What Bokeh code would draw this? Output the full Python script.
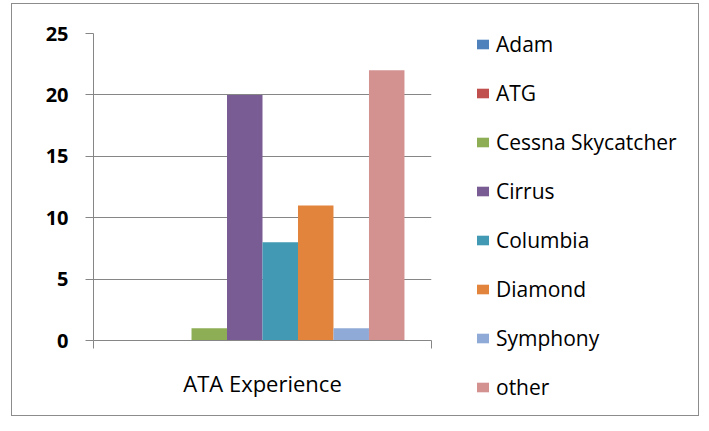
from bokeh.plotting import figure
from bokeh.models import Range1d, FixedTicker, Legend, LegendItem
from bokeh.layouts import row
from bokeh.embed import file_html
from bokeh.resources import INLINE

categories = ["ATA Experience"]
series = ["Adam", "ATG", "Cessna Skycatcher", "Cirrus", "Columbia", "Diamond", "Symphony", "other"]
values = [0, 0, 1, 20, 8, 11, 1, 22]
colors = ["#4F81BD", "#C0504D", "#8EAE55", "#7A5C95", "#4299B3", "#E3843C", "#8FAAD6", "#D39190"]
y_ticks = [0, 5, 10, 15, 20, 25]

FONT = "Open Sans"
group_frac = 0.84
bar_w = group_frac / len(series)

p = figure(width=463, height=411, output_backend="svg", toolbar_location=None,
           x_range=Range1d(0, len(categories)), y_range=Range1d(0, 25),
           min_border_left=81, min_border_right=44, min_border_top=29, min_border_bottom=75)
p.outline_line_color = None
p.background_fill_color = "white"
p.border_fill_color = "white"
p.frame_align = False

for i, (name, v, c) in enumerate(zip(series, values, colors)):
    xs = [ci + 0.5 + (i - (len(series) - 1) / 2) * bar_w for ci in range(len(categories))]
    p.vbar(x=xs, top=[v], width=bar_w, bottom=0, fill_color=c, line_color=None)

# y axis
p.yaxis.ticker = FixedTicker(ticks=y_ticks)
p.yaxis.axis_line_color = "#868686"
p.yaxis.major_tick_line_color = "#868686"
p.yaxis.major_tick_out = 8
p.yaxis.major_tick_in = 0
p.yaxis.minor_tick_line_color = None
p.yaxis.major_label_standoff = 17
p.yaxis.major_label_text_font = FONT
p.yaxis.major_label_text_font_style = "bold"
p.yaxis.major_label_text_font_size = "20px"
p.yaxis.major_label_text_color = "black"

# x axis
p.xaxis.ticker = FixedTicker(ticks=[ci + 0.5 for ci in range(len(categories))],
                             minor_ticks=list(range(len(categories) + 1)))
p.xaxis.major_label_overrides = {ci + 0.5: c for ci, c in enumerate(categories)}
p.xaxis.axis_line_color = "#868686"
p.xaxis.major_tick_line_color = None
p.xaxis.major_tick_out = 0
p.xaxis.major_tick_in = 0
p.xaxis.minor_tick_line_color = "#868686"
p.xaxis.minor_tick_out = 8
p.xaxis.minor_tick_in = 0
p.xaxis.major_label_standoff = 19
p.xaxis.major_label_text_font = FONT
p.xaxis.major_label_text_font_size = "22px"
p.xaxis.major_label_text_color = "black"

p.xgrid.grid_line_color = None
p.ygrid.ticker = FixedTicker(ticks=y_ticks)
p.ygrid.grid_line_color = "#868686"
p.ygrid.grid_line_width = 1

# legend panel (separate figure, same series styles)
pl = figure(width=223, height=411, output_backend="svg", toolbar_location=None,
            x_range=Range1d(0, 1), y_range=Range1d(0, 1),
            x_axis_type=None, y_axis_type=None,
            min_border_left=0, min_border_right=0, min_border_top=26, min_border_bottom=0)
pl.outline_line_color = None
pl.background_fill_color = "white"
pl.border_fill_color = "white"
pl.frame_align = False
items = []
nan = float("nan")
for name, c in zip(series, colors):
    r = pl.vbar(x=[nan], top=[nan], width=0.1, fill_color=c, line_color=None)
    items.append(LegendItem(label=name, renderers=[r]))

legend = Legend(items=items, location="top_left")
legend.border_line_color = None
legend.background_fill_alpha = 0
legend.padding = 0
legend.margin = 0
legend.glyph_width = 15
legend.glyph_height = 12
legend.label_height = 20
legend.spacing = 21
legend.label_standoff = 6
legend.label_text_font = FONT
legend.label_text_font_size = "21px"
legend.label_text_color = "black"
pl.add_layout(legend)

layout = row(p, pl, styles={"border": "1px solid #8c8c8c", "margin-left": "11px", "margin-top": "3px"})

open("out.html", "w").write(file_html(layout, INLINE))
